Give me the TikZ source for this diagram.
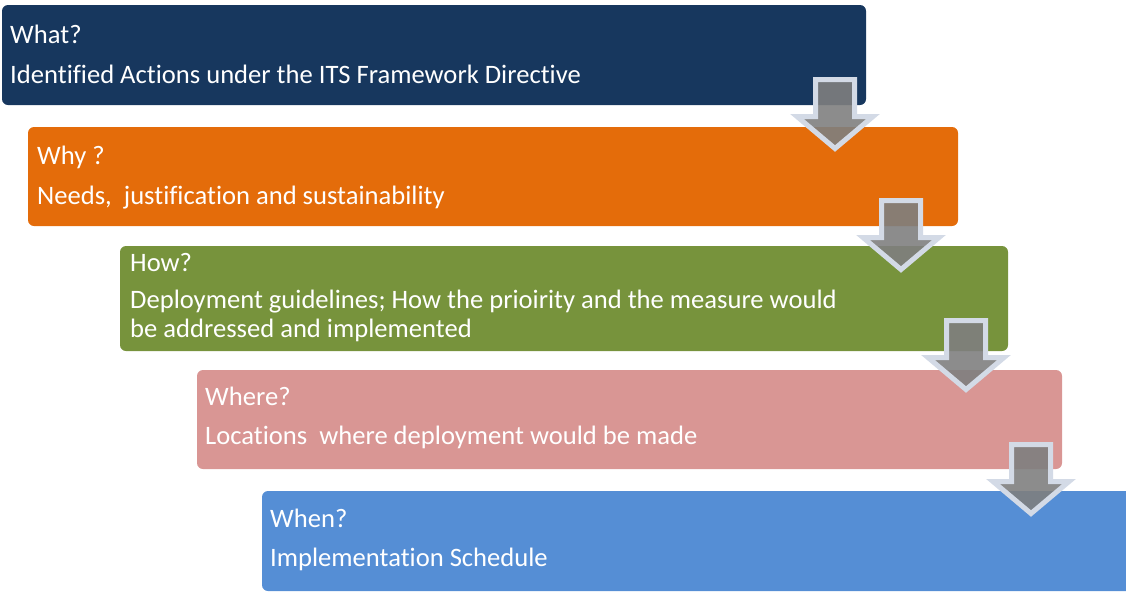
\documentclass[tikz,border=0pt]{standalone}
\usepackage{fontspec}
\setmainfont{Carlito}[Ligatures=NoCommon]
\definecolor{cWhat}{HTML}{17375E}
\definecolor{cWhy}{HTML}{E46C0A}
\definecolor{cHow}{HTML}{77933C}
\definecolor{cWhere}{HTML}{D99694}
\definecolor{cWhen}{HTML}{558ED5}
\definecolor{arrowEdge}{HTML}{D3DAE6}
\definecolor{arrowFill}{HTML}{7F7F7F}
\begin{document}
\begin{tikzpicture}[x=1pt,y=-1pt,
  stagebox/.style={fill=#1,rounded corners=6pt,draw=none},
  stagetxt/.style={anchor=base west,text=white,inner sep=0pt,font=\fontsize{26.6}{29}\selectfont},
  blockarrow/.style={fill=arrowFill,fill opacity=0.9,draw=arrowEdge,line width=5pt,line join=miter}]
\useasboundingbox (0,0) rectangle (1126,592);
% boxes
\path[stagebox=cWhat]  (2,5)     rectangle (866,105);
\path[stagebox=cWhy]   (28,127)  rectangle (958,226);
\path[stagebox=cHow]   (120,246) rectangle (1008,351);
\path[stagebox=cWhere] (197,370) rectangle (1062,469);
\path[stagebox=cWhen]  (262,491) rectangle (1138,591);
% texts
\node[stagetxt] (t1a) at (10,43)  {What?};
\node[stagetxt] (t1b) at (10,83)  {Identified Actions under the ITS Framework Directive};
\node[stagetxt] (t2a) at (37,164) {Why ?};
\node[stagetxt] (t2b) at (37,204) {Needs,\ \ justification and sustainability};
\node[stagetxt] (t3a) at (130,271) {How?};
\node[stagetxt] (t3b) at (130,308) {Deployment guidelines; How the prioirity and the measure would};
\node[stagetxt] (t3c) at (130,337) {be addressed and implemented};
\node[stagetxt] (t4a) at (205,405) {Where?};
\node[stagetxt] (t4b) at (205,444) {Locations\ \ where deployment would be made};
\node[stagetxt] (t5a) at (270,527) {When?};
\node[stagetxt] (t5b) at (270,566) {Implementation Schedule};
% block arrows: center x, top y
\foreach \cx/\ty in {835/77, 901/198, 966/318, 1031/442}{
  \draw[blockarrow]
    (\cx-19.5,\ty+2.5) -- (\cx+19.5,\ty+2.5) -- (\cx+19.5,\ty+39.5)
    -- (\cx+38,\ty+39.5) -- (\cx,\ty+71.5) -- (\cx-38,\ty+39.5)
    -- (\cx-19.5,\ty+39.5) -- cycle;
}
\end{tikzpicture}
\end{document}
